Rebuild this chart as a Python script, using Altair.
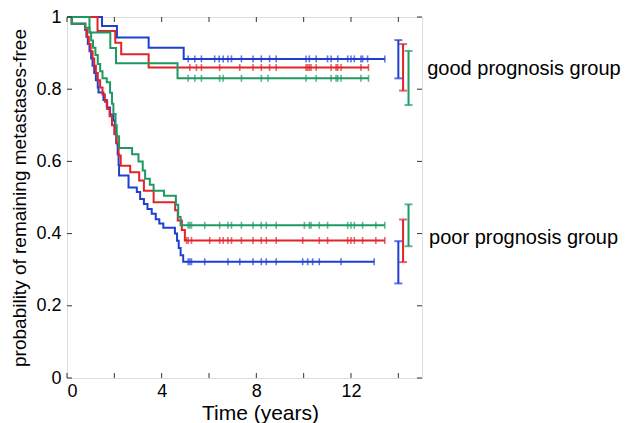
import altair as alt
import pandas as pd

# ---------------- data ----------------
methods = ["blue", "red", "green"]
colors = ["#1f3fd0", "#e02428", "#1e9963"]

# good prognosis group: step times and survival after each step
good_blue_t = [0, 1.48, 2.11, 3.45, 4.93, 13.43]
good_blue_s = [1, 0.975, 0.943, 0.915, 0.884, 0.884]
good_red_t = [0, 1.29, 2.04, 2.29, 3.45, 12.74]
good_red_s = [1, 0.961, 0.929, 0.897, 0.860, 0.860]
good_green_t = [0, 0.95, 1.83, 2.07, 4.67, 12.74]
good_green_s = [1, 0.957, 0.914, 0.872, 0.830, 0.830]

# poor prognosis group
poor_blue_t = [0, 0.2, 0.77, 0.82, 0.88, 0.95, 1.02, 1.08, 1.15, 1.22, 1.3, 1.33, 1.54,
               1.68, 1.82, 1.96, 2.02, 2.08, 2.14, 2.18, 2.2, 2.6, 2.95, 3.09, 3.25, 3.4,
               3.58, 3.75, 3.9, 4.07, 4.56, 4.65, 4.72, 4.8, 4.91, 12.98]
poor_blue_s = [1, 0.981, 0.965, 0.945, 0.925, 0.905, 0.885, 0.865, 0.845, 0.825, 0.805, 0.791, 0.77,
               0.749, 0.73, 0.713, 0.68, 0.65, 0.62, 0.59, 0.561, 0.528, 0.515, 0.496, 0.482, 0.468,
               0.455, 0.44, 0.428, 0.416, 0.40, 0.38, 0.36, 0.34, 0.322, 0.322]
poor_red_t = [0, 0.2, 0.77, 0.85, 0.92, 1.0, 1.08, 1.15, 1.22, 1.3, 1.4, 1.5, 1.6, 1.7, 1.8,
              1.9, 2.0, 2.1, 2.18, 2.27, 2.67, 3.05, 3.25, 3.66, 4.57, 4.68, 4.85, 4.98, 13.43]
poor_red_s = [1, 0.981, 0.965, 0.945, 0.925, 0.905, 0.885, 0.865, 0.845, 0.825, 0.805, 0.785, 0.765,
              0.745, 0.725, 0.70, 0.675, 0.65, 0.616, 0.588, 0.570, 0.547, 0.519, 0.487, 0.465,
              0.436, 0.41, 0.381, 0.381]
poor_green_t = [0, 0.2, 0.77, 0.95, 1.02, 1.1, 1.2, 1.3, 1.4, 1.5, 1.68, 1.82, 1.9, 1.96, 2.05,
                2.1, 2.2, 2.75, 3.02, 3.2, 3.3, 3.5, 3.66, 4.1, 4.6, 4.7, 4.8, 13.43]
poor_green_s = [1, 0.981, 0.97, 0.957, 0.935, 0.915, 0.895, 0.87, 0.85, 0.83, 0.819, 0.79, 0.76,
                0.731, 0.70, 0.67, 0.637, 0.62, 0.60, 0.575, 0.552, 0.535, 0.519, 0.505, 0.48,
                0.446, 0.423, 0.423]

# censoring times
good_blue_c = [5.12, 5.40, 5.68, 6.24, 6.43, 6.6, 6.8, 6.95, 7.37, 7.86, 8.21, 8.56, 8.84, 10.1,
               10.24, 10.53, 11.01, 11.16, 11.44, 11.86, 12.0, 12.14, 12.42, 12.49, 12.7, 13.43]
good_red_c = [5.19, 5.47, 5.68, 6.45, 7.3, 7.86, 8.21, 8.56, 8.84, 10.1, 10.17, 10.24, 10.31,
              10.53, 11.16, 11.37, 11.44, 11.58, 12.42, 12.74]
good_green_c = [5.12, 5.4, 5.68, 6.45, 6.6, 7.37, 8.21, 8.49, 10.1, 10.53, 11.16, 11.37, 11.44,
                11.58, 12.42, 12.74]
poor_blue_c = [5.12, 5.19, 5.26, 5.82, 6.8, 7.3, 7.86, 8.21, 8.42, 8.84, 9.96, 10.17, 10.38,
               10.66, 11.58, 12.98]
poor_red_c = [5.05, 5.12, 5.26, 6.03, 6.45, 6.6, 6.8, 6.95, 7.37, 7.86, 8.21, 8.42, 8.84, 9.96,
              10.66, 11.01, 11.86, 12.0, 12.14, 12.49, 13.05, 13.43]
poor_green_c = [5.12, 5.19, 5.26, 5.82, 6.45, 6.8, 6.95, 7.37, 7.86, 8.21, 8.42, 8.84, 10.03,
                10.24, 10.31, 10.66, 11.01, 11.86, 12.0, 12.14, 12.49, 13.05, 13.43]

# confidence intervals at the right
err_method = ["blue", "red", "green", "blue", "red", "green"]
err_t = [14.0, 14.2, 14.43, 14.0, 14.2, 14.43]
err_lo = [0.830, 0.796, 0.756, 0.262, 0.321, 0.365]
err_hi = [0.936, 0.925, 0.906, 0.379, 0.439, 0.481]

labels = ["good prognosis group", "poor prognosis group"]
label_t = [15.22, 15.30]
label_s = [0.840, 0.370]

x_ticks = [0, 2, 4, 6, 8, 10, 12, 14]
x_labels = [0, 4, 8, 12]
y_ticks = [0, 0.2, 0.4, 0.6, 0.8, 1]

# ---------------- tables ----------------
curves = [
    ("good", "blue", good_blue_t, good_blue_s, good_blue_c),
    ("good", "red", good_red_t, good_red_s, good_red_c),
    ("good", "green", good_green_t, good_green_s, good_green_c),
    ("poor", "blue", poor_blue_t, poor_blue_s, poor_blue_c),
    ("poor", "red", poor_red_t, poor_red_s, poor_red_c),
    ("poor", "green", poor_green_t, poor_green_s, poor_green_c),
]
line_rows, cens_rows = [], []
for grp, m, ts, ss, cs_ in curves:
    for i, (t, s) in enumerate(zip(ts, ss)):
        line_rows.append({"curve": grp + m, "method": m, "t": t, "s": s, "o": i})
    for c in cs_:
        cens_rows.append({"method": m, "t": c, "s": ss[-1]})
lines_df = pd.DataFrame(line_rows)
cens_df = pd.DataFrame(cens_rows)
err_df = pd.DataFrame({"method": err_method, "t": err_t, "lo": err_lo, "hi": err_hi})
lab_df = pd.DataFrame({"label": labels, "t": label_t, "s": label_s})
xt_df = pd.DataFrame({"v": x_ticks})
yt_df = pd.DataFrame({"v": y_ticks})

W, H = 355, 361
FONT = "Liberation Sans"

xs = alt.Scale(domain=[0, 15], nice=False, zero=False)
ys = alt.Scale(domain=[0, 1], nice=False)
cs = alt.Scale(domain=methods, range=colors)

x_enc = alt.X("t:Q", scale=xs, axis=alt.Axis(values=x_labels, title="Time (years)", ticks=False,
                                              domain=False, grid=False, labelFontSize=18,
                                              titleFontSize=21, labelPadding=4, titlePadding=2,
                                              titleX=193, titleAlign="center",
                                              labelColor="black", titleColor="black",
                                              titleFontWeight="normal", labelFont=FONT, titleFont=FONT))
y_enc = alt.Y("s:Q", scale=ys, axis=alt.Axis(values=y_ticks, format="~g",
                                              title="probability of remaining metastases-free",
                                              ticks=False, domain=False, grid=False, labelFontSize=18,
                                              titleFontSize=19, labelPadding=6, titlePadding=6,
                                              labelColor="black", titleColor="black",
                                              titleFontWeight="normal", labelFont=FONT, titleFont=FONT))
col = alt.Color("method:N", scale=cs, legend=None)

lines = alt.Chart(lines_df).mark_line(interpolate="step-after", strokeWidth=2).encode(
    x=x_enc, y=y_enc, color=col, detail="curve:N", order="o:Q")

cens = alt.Chart(cens_df).mark_tick(orient="vertical", size=7, thickness=1.6).encode(
    x=alt.X("t:Q", scale=xs), y=alt.Y("s:Q", scale=ys), color=col)

err_rule = alt.Chart(err_df).mark_rule(strokeWidth=2).encode(
    x=alt.X("t:Q", scale=xs), y=alt.Y("lo:Q", scale=ys), y2="hi:Q", color=col)
cap_lo = alt.Chart(err_df).mark_tick(orient="horizontal", size=8, thickness=2).encode(
    x=alt.X("t:Q", scale=xs), y=alt.Y("lo:Q", scale=ys), color=col)
cap_hi = alt.Chart(err_df).mark_tick(orient="horizontal", size=8, thickness=2).encode(
    x=alt.X("t:Q", scale=xs), y=alt.Y("hi:Q", scale=ys), color=col)

text = alt.Chart(lab_df).mark_text(align="left", baseline="alphabetic", fontSize=20,
                                   font=FONT, color="black").encode(
    x=alt.X("t:Q", scale=xs), y=alt.Y("s:Q", scale=ys), text="label:N")

tick_col = "#333333"
xt_bot = alt.Chart(xt_df).mark_rule(color=tick_col, strokeWidth=1).encode(
    x=alt.X("v:Q", scale=xs), y=alt.value(H), y2=alt.value(H - 5))
xt_top = alt.Chart(xt_df).mark_rule(color=tick_col, strokeWidth=1).encode(
    x=alt.X("v:Q", scale=xs), y=alt.value(0), y2=alt.value(5))
yt_left = alt.Chart(yt_df).mark_rule(color=tick_col, strokeWidth=1).encode(
    y=alt.Y("v:Q", scale=ys), x=alt.value(0), x2=alt.value(5))
yt_right = alt.Chart(yt_df).mark_rule(color=tick_col, strokeWidth=1).encode(
    y=alt.Y("v:Q", scale=ys), x=alt.value(W), x2=alt.value(W - 5))

chart = alt.layer(lines, cens, err_rule, cap_lo, cap_hi, text,
                  xt_bot, xt_top, yt_left, yt_right).properties(
    width=W, height=H,
    padding={"left": 59, "top": 9, "right": 199, "bottom": 45},
    autosize=alt.AutoSizeParams(type="none"),
).configure_view(stroke="#333333", strokeWidth=1.2).configure(background="white")

chart.save("out.html", embed_options={"renderer": "svg", "actions": False})
